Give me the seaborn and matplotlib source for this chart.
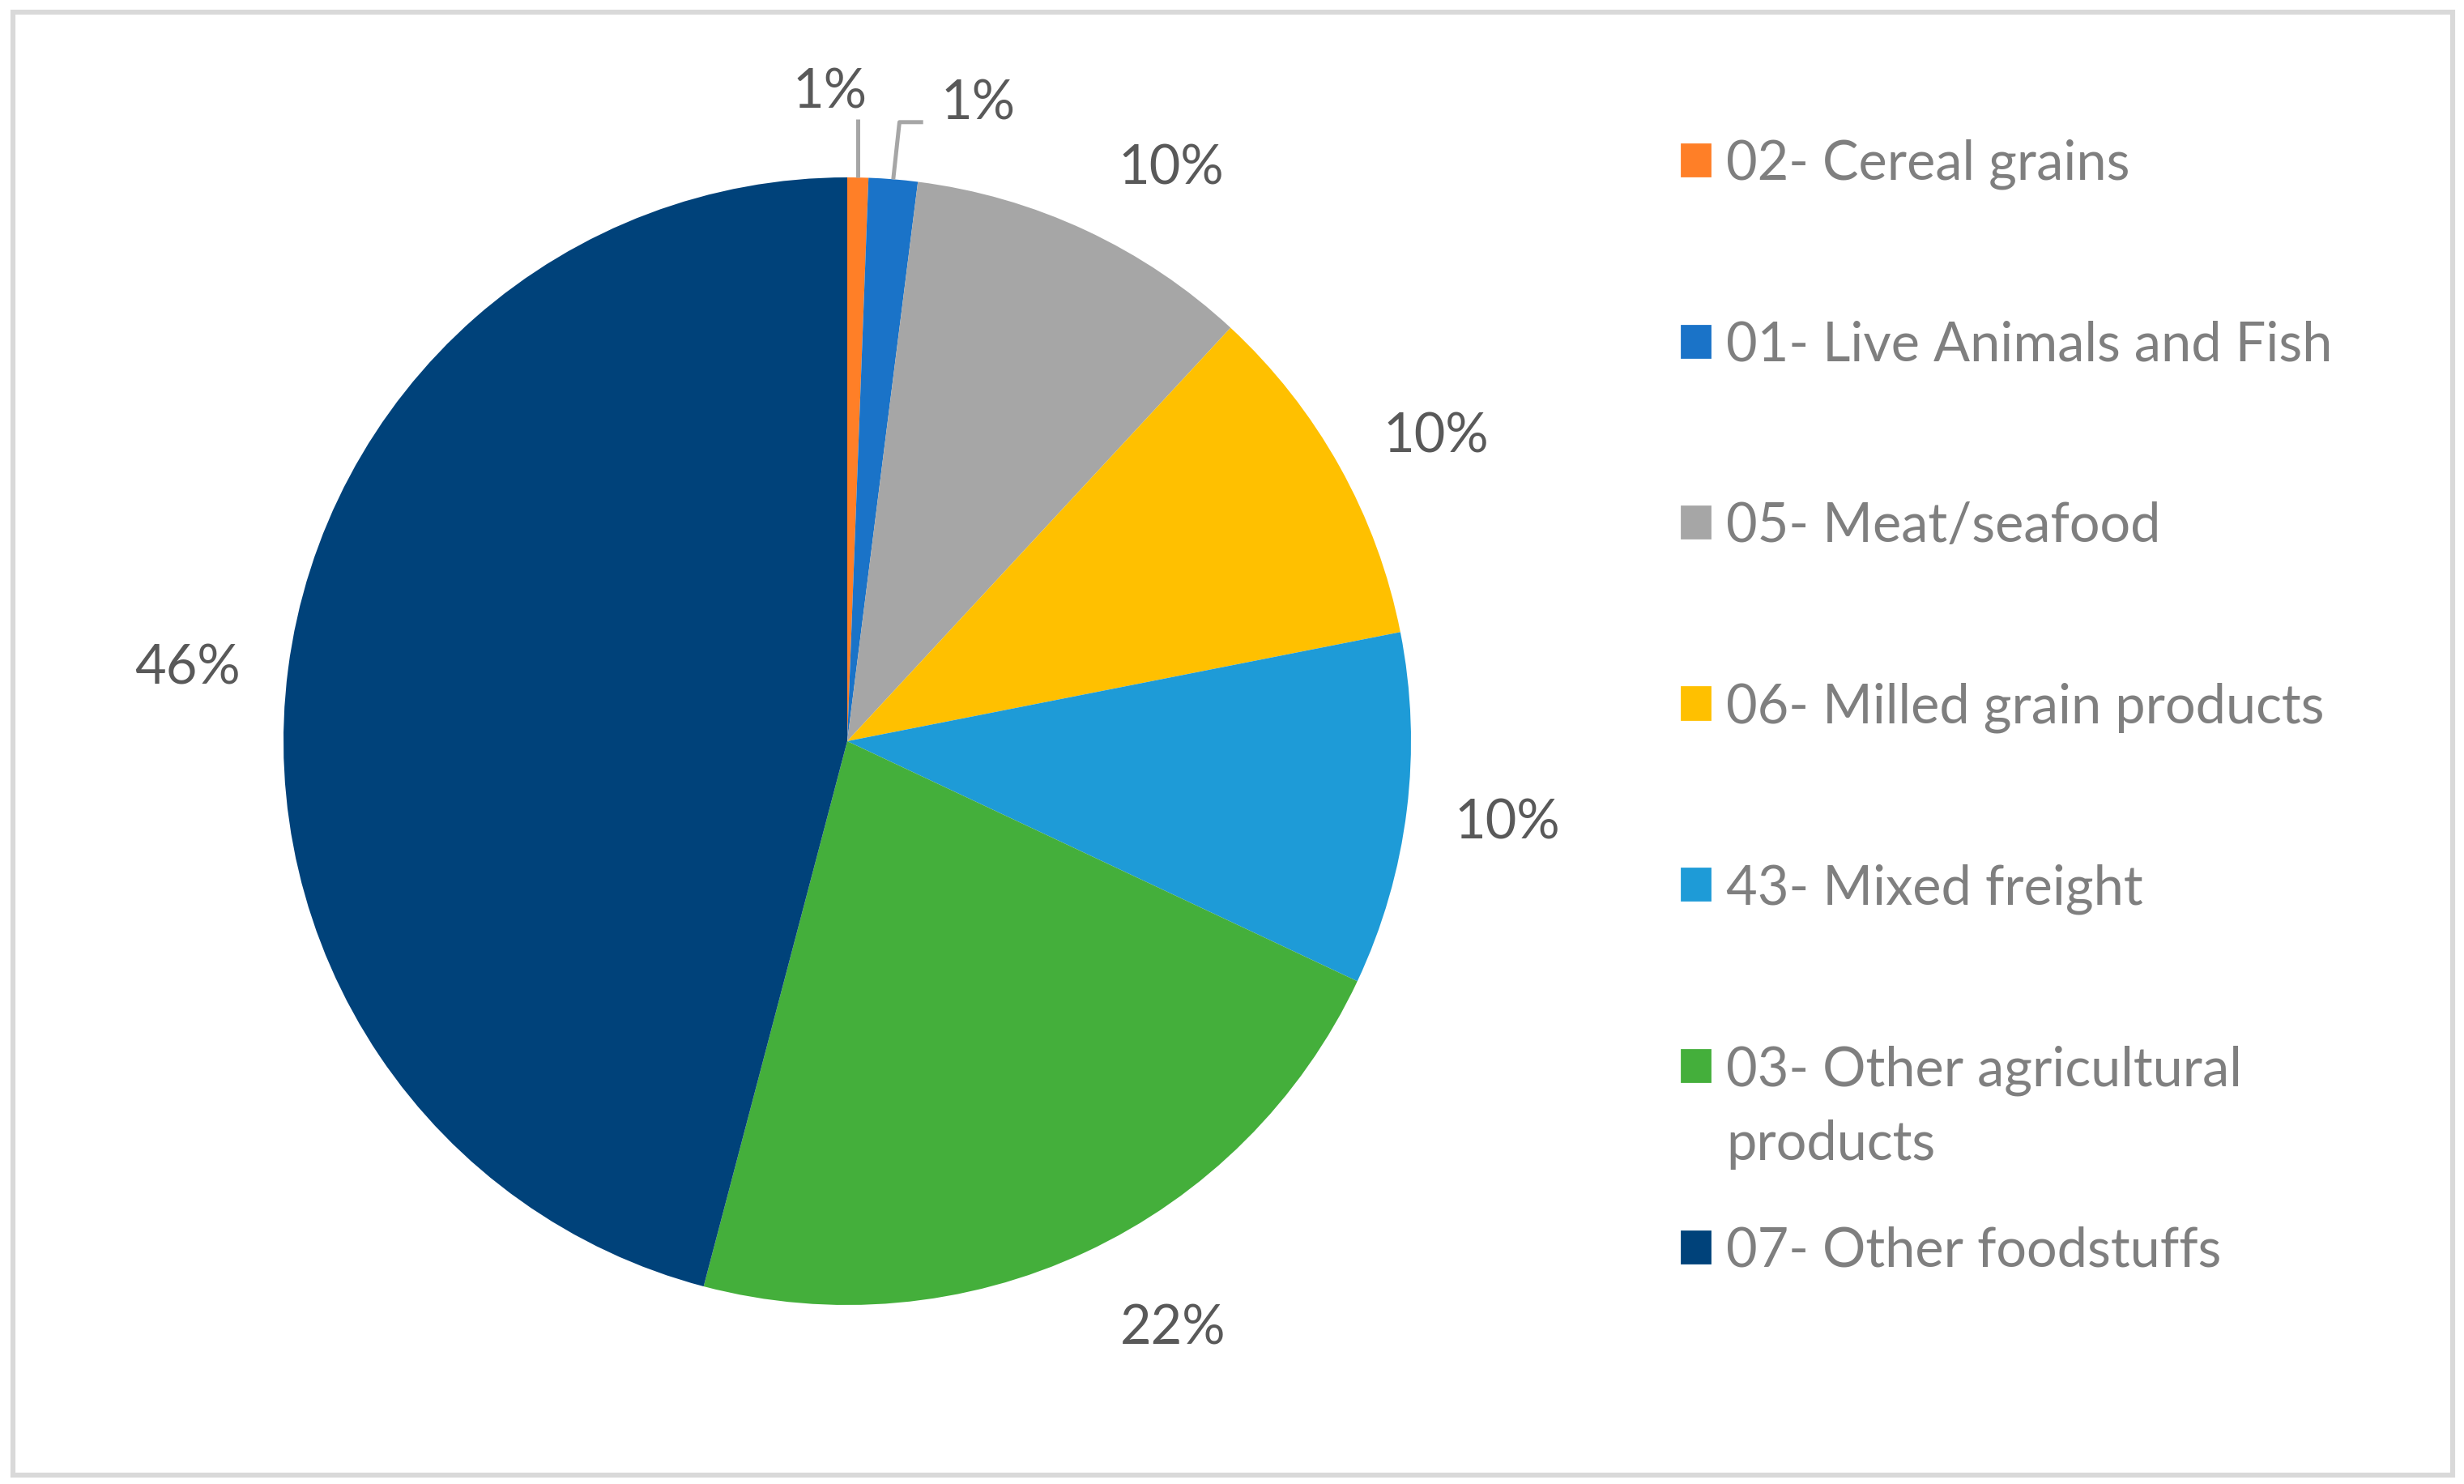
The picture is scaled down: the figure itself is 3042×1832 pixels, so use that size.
import matplotlib.pyplot as plt
import matplotlib.patches as mpatches
import numpy as np
import seaborn as sns

# slice order follows the chart, clockwise from 12 o'clock
categories = ["02- Cereal grains", "01- Live Animals and Fish", "05- Meat/seafood",
              "06- Milled grain products", "43- Mixed freight",
              "03- Other agricultural\nproducts", "07- Other foodstuffs"]
shares = [0.6, 1.4, 9.9, 10.0, 10.1, 22.1, 45.9]
colors = ["#FF7F27", "#1A73C8", "#A6A6A6", "#FFC000", "#1E9BD7", "#44AF3B", "#00427A"]

sns.set_theme(style="white")
plt.rcParams['font.family'] = ['Lato', 'DejaVu Sans']

W, H, dpi = 3042, 1833, 200
fig = plt.figure(figsize=(W / dpi, H / dpi), dpi=dpi)
ax = fig.add_axes([0, 0, 1, 1])

# pie centre and radius in pixels
cx, cy, r = 1046, 916, 696
wedges, texts, pcts = ax.pie(shares, colors=colors, startangle=90, counterclock=False,
                             autopct=lambda p: f"{p:.0f}%", pctdistance=1.18,
                             wedgeprops=dict(linewidth=0),
                             textprops=dict(fontsize=24, color="#595959"))
ax.set_xlim(-cx / r, (W - cx) / r)
ax.set_ylim((cy - H) / r, cy / r)
ax.axis("off")

# excel-style nudges of the outside labels
nudges = [(0, 0), (0, 0), (0.075, -0.053), (0.014, -0.034), (0, 0), (0.078, 0.028), (0, -0.022)]
for t, (dx, dy) in zip(pcts, nudges):
    x, y = t.get_position()
    t.set_position((x + dx, y + dy))

# leader lines for the two thin slices
line_kw = dict(color="#A6A6A6", lw=1.8, solid_capstyle="butt")
w = wedges[0]
a = np.deg2rad((w.theta1 + w.theta2) / 2)
x0, y0 = np.cos(a), np.sin(a)
ax.plot([x0, x0], [y0, 1.103], **line_kw)
pcts[0].set_position((x0 - 0.05, 1.152))

w = wedges[1]
a = np.deg2rad((w.theta1 + w.theta2) / 2)
x0, y0 = np.cos(a), np.sin(a)
ax.plot([x0, x0 + 0.011, x0 + 0.053], [y0, 1.098, 1.098], **line_kw)
pcts[1].set_position((x0 + 0.15, 1.132))

# legend: wrapped labels keep the row pitch, extra lines hang below
first_lines = [c.split("\n")[0] for c in categories]
handles = [mpatches.Patch(color=c, label=l) for c, l in zip(colors, first_lines)]
leg = fig.legend(handles=handles, loc="upper left",
                 bbox_to_anchor=(2076 / W, 1 - 172 / H), frameon=False,
                 fontsize=24, labelcolor="#7F7F7F", handlelength=0.53,
                 handleheight=0.53, handletextpad=0.30, labelspacing=2.42,
                 borderaxespad=0, borderpad=0)
fig.canvas.draw()
for c, t in zip(categories, leg.get_texts()):
    if "\n" in c:
        bb = t.get_window_extent()
        fig.text(bb.x0 / W, (bb.y0 - 32.9 * dpi / 72) / H, c.split("\n", 1)[1],
                 ha="left", va="bottom", fontsize=24, color="#7F7F7F")

# chart border
fig.patches.append(mpatches.Rectangle((16 / W, 1 - 1822 / H), (3028 - 16) / W, (1822 - 16) / H,
                                      transform=fig.transFigure, fill=False,
                                      edgecolor="#D9D9D9", lw=2.2))

fig.savefig("out.png", dpi=dpi)
